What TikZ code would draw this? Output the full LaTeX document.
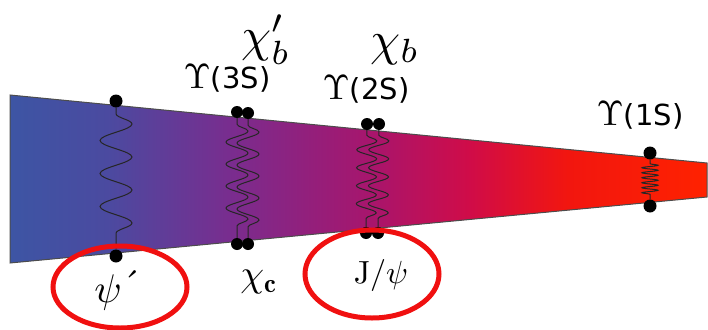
\documentclass[tikz,border=0pt]{standalone}
\usepackage{fontspec}
\setsansfont{DejaVu Sans}
\usetikzlibrary{decorations.pathmorphing,shapes.geometric}
\definecolor{cA}{HTML}{3D55A4}
\definecolor{cB}{HTML}{4B4AA0}
\definecolor{cC}{HTML}{7A2C8E}
\definecolor{cD}{HTML}{A8156C}
\definecolor{cE}{HTML}{D00C48}
\definecolor{cF}{HTML}{F2160F}
\definecolor{cG}{HTML}{FF2200}
\definecolor{ringred}{HTML}{F01010}
\pgfdeclarehorizontalshading{wedgeshade}{100bp}{color(0bp)=(cA); color(25bp)=(cA); color(32bp)=(cB); color(41bp)=(cC); color(51bp)=(cD); color(58bp)=(cE); color(65bp)=(cF); color(75bp)=(cG); color(100bp)=(cG)}
\newcommand{\upsl}{\scalebox{3.5}{\fontsize{10}{12}\selectfont$\Upsilon$}}
\tikzset{
  dotnode/.style={circle, fill=black, inner sep=0pt, minimum size=13pt},
  smalldot/.style={circle, fill=black, inner sep=0pt, minimum size=12pt},
  wavyA/.style={draw=black!85, line width=1pt, decorate, decoration={snake, amplitude=16pt, segment length=33pt, pre length=6pt, post length=6pt}},
  wavyB/.style={draw=black!85, line width=1pt, decorate, decoration={snake, amplitude=11pt, segment length=22pt, pre length=6pt, post length=6pt}},
  wavyC/.style={draw=black!85, line width=1pt, decorate, decoration={snake, amplitude=10pt, segment length=18pt, pre length=5pt, post length=5pt}},
  coilD/.style={draw=black!85, line width=1pt, decorate, decoration={snake, amplitude=8pt, segment length=5pt, pre length=4pt, post length=4pt}},
  ups/.style={font=\sffamily\fontsize{29}{32}\selectfont, inner sep=0pt},
  biglab/.style={inner sep=0pt},
  ring/.style={draw=ringred, line width=5pt, ellipse, inner sep=0pt}
}
\begin{document}
\begin{tikzpicture}[x=1pt,y=-1pt]
\useasboundingbox (0,0) rectangle (708,329);
% wedge
\path[shading=wedgeshade, draw=black!70, line width=1pt] (10,95) -- (707,163) -- (707,197) -- (10,263) -- cycle;
% psi' spring
\node[dotnode] (p1t) at (116,101) {};
\node[dotnode] (p1b) at (116,256) {};
\draw[wavyA] (p1t) -- (p1b);
% Upsilon(3S) / chi_c pair
\node[smalldot] (p2t) at (237,112) {};
\node[smalldot] (p2b) at (237,244) {};
\node[smalldot] (p3t) at (248,113) {};
\node[smalldot] (p3b) at (248,244) {};
\draw[wavyB] (p2t) -- (p2b);
\draw[wavyB] (p3t) -- (p3b);
% Upsilon(2S) / J/psi pair
\node[smalldot] (p4t) at (367,124) {};
\node[smalldot] (p4b) at (366,233) {};
\node[smalldot] (p5t) at (379,124) {};
\node[smalldot] (p5b) at (378,233) {};
\draw[wavyC] (p4t) -- (p4b);
\draw[wavyC] (p5t) -- (p5b);
% Upsilon(1S)
\node[dotnode] (p6t) at (650,153) {};
\node[dotnode] (p6b) at (650,206) {};
\draw[coilD] (p6t) -- (p6b);
% labels
\node[ups] (l3s) at (227,78) {\upsl(3S)};
\node[ups] (l2s) at (366,89) {\upsl(2S)};
\node[ups] (l1s) at (640,115) {\upsl(1S)};
\node[biglab] (lchibp) at (266,40) {\scalebox{4.8}{$\chi'_b$}};
\node[biglab] (lchib) at (395,50) {\scalebox{4.8}{$\chi_b$}};
\node[biglab] (lpsip) at (118,290) {\scalebox{4}{$\psi$\raisebox{1pt}{´}}};
\node[biglab] (lchic) at (259,282) {\scalebox{3.8}{$\chi_{\mathbf{c}}$}};
\node[biglab] (ljpsi) at (381,275) {\scalebox{3.2}{$\mathrm{J}/\psi$}};
% red rings
\node[ring, minimum width=134pt, minimum height=82pt] (r1) at (120,287) {};
\node[ring, minimum width=134pt, minimum height=88pt] (r2) at (372,274) {};
\end{tikzpicture}
\end{document}
